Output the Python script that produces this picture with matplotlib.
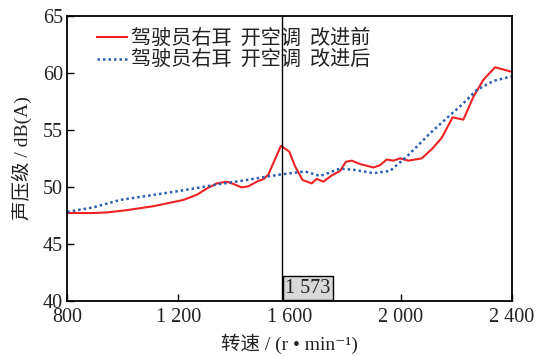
import matplotlib
matplotlib.use("Agg")
import matplotlib.pyplot as plt

# red curve: driver's right ear, A/C on, before improvement
rpm_before = [800, 894, 942, 1014, 1110, 1218, 1266, 1302, 1338, 1374, 1398, 1428,
              1452, 1482, 1508, 1524, 1542, 1569, 1599, 1620, 1647, 1680, 1698, 1722,
              1752, 1782, 1803, 1824, 1854, 1902, 1926, 1950, 1974, 1998, 2028, 2076,
              2112, 2148, 2187, 2226, 2262, 2298, 2340, 2400]
spl_before = [47.7, 47.7, 47.75, 47.95, 48.3, 48.85, 49.3, 49.85, 50.3, 50.45, 50.25, 49.95,
              50.05, 50.45, 50.7, 51.1, 52.1, 53.6, 53.1, 51.8, 50.6, 50.3, 50.7, 50.45,
              51.0, 51.4, 52.2, 52.3, 52.0, 51.7, 51.9, 52.4, 52.3, 52.5, 52.3, 52.5,
              53.3, 54.3, 56.1, 55.9, 57.9, 59.4, 60.5, 60.1]

# blue dotted curve: after improvement
rpm_after = [800, 894, 990, 1086, 1206, 1278, 1350, 1446, 1518, 1572, 1656, 1710,
             1782, 1830, 1902, 1962, 2022, 2106, 2160, 2220, 2274, 2334, 2400]
spl_after = [47.8, 48.2, 48.85, 49.2, 49.65, 49.95, 50.25, 50.6, 50.9, 51.1, 51.35, 50.95,
             51.6, 51.5, 51.2, 51.4, 52.65, 54.7, 55.9, 57.2, 58.5, 59.3, 59.7]

marker_rpm = 1573
marker_label = "1 573"

xticks = [800, 1200, 1600, 2000, 2400]
xtick_labels = ["800", "1 200", "1 600", "2 000", "2 400"]
yticks = [40, 45, 50, 55, 60, 65]

legend_labels = ["驾驶员右耳  开空调  改进前", "驾驶员右耳  开空调  改进后"]

serif = ["Liberation Serif", "Noto Sans CJK SC", "DejaVu Sans"]
cjk = ["Noto Sans CJK SC", "DejaVu Sans"]

fig = plt.figure(figsize=(5.46, 3.56), dpi=100)
ax = fig.add_axes([0.1233, 0.1553, 0.8139, 0.7997])

ax.plot(rpm_before, spl_before, color="#ee2222", lw=1.5, label=legend_labels[0])
ax.plot(rpm_after, spl_after, color="#2a5db0", lw=1.8, ls=(0, (1, 1.2)),
        label=legend_labels[1])
ax.axvline(marker_rpm, color="black", lw=1.0)

ax.annotate(marker_label, xy=(marker_rpm, 40), xytext=(2.5, 2.2),
            textcoords="offset points", ha="left", va="bottom",
            fontsize=14.5, family=serif, color="#222222",
            bbox=dict(boxstyle="square,pad=0.12", fc="#d8d8d8", ec="black", lw=1.0))

ax.set_xlim(800, 2400)
ax.set_ylim(40, 65)
ax.set_xticks(xticks)
ax.set_xticklabels(xtick_labels)
ax.set_yticks(yticks)
ax.tick_params(direction="in", length=5, width=1, top=False, right=False,
               labelsize=14.5, pad=3)
ax.tick_params(axis="x", pad=5)
for lab in ax.get_xticklabels() + ax.get_yticklabels():
    lab.set_family(serif)
    lab.set_color("#222222")
for sp in ax.spines.values():
    sp.set_linewidth(1.3)

ax.set_xlabel("转速 / (r • min⁻¹)", fontsize=14, family=serif, color="#222222",
              labelpad=5)
ax.set_ylabel("声压级 / dB(A)", fontsize=14, family=serif, color="#222222",
              labelpad=8)

leg = ax.legend(loc="upper left", frameon=False, handlelength=1.5, handletextpad=0.2,
                labelspacing=0.05, borderaxespad=0.2, bbox_to_anchor=(0.04, 1.0),
                prop={"family": cjk, "size": 14.5})
for t in leg.get_texts():
    t.set_color("#222222")

fig.savefig("out.png", dpi=100)
